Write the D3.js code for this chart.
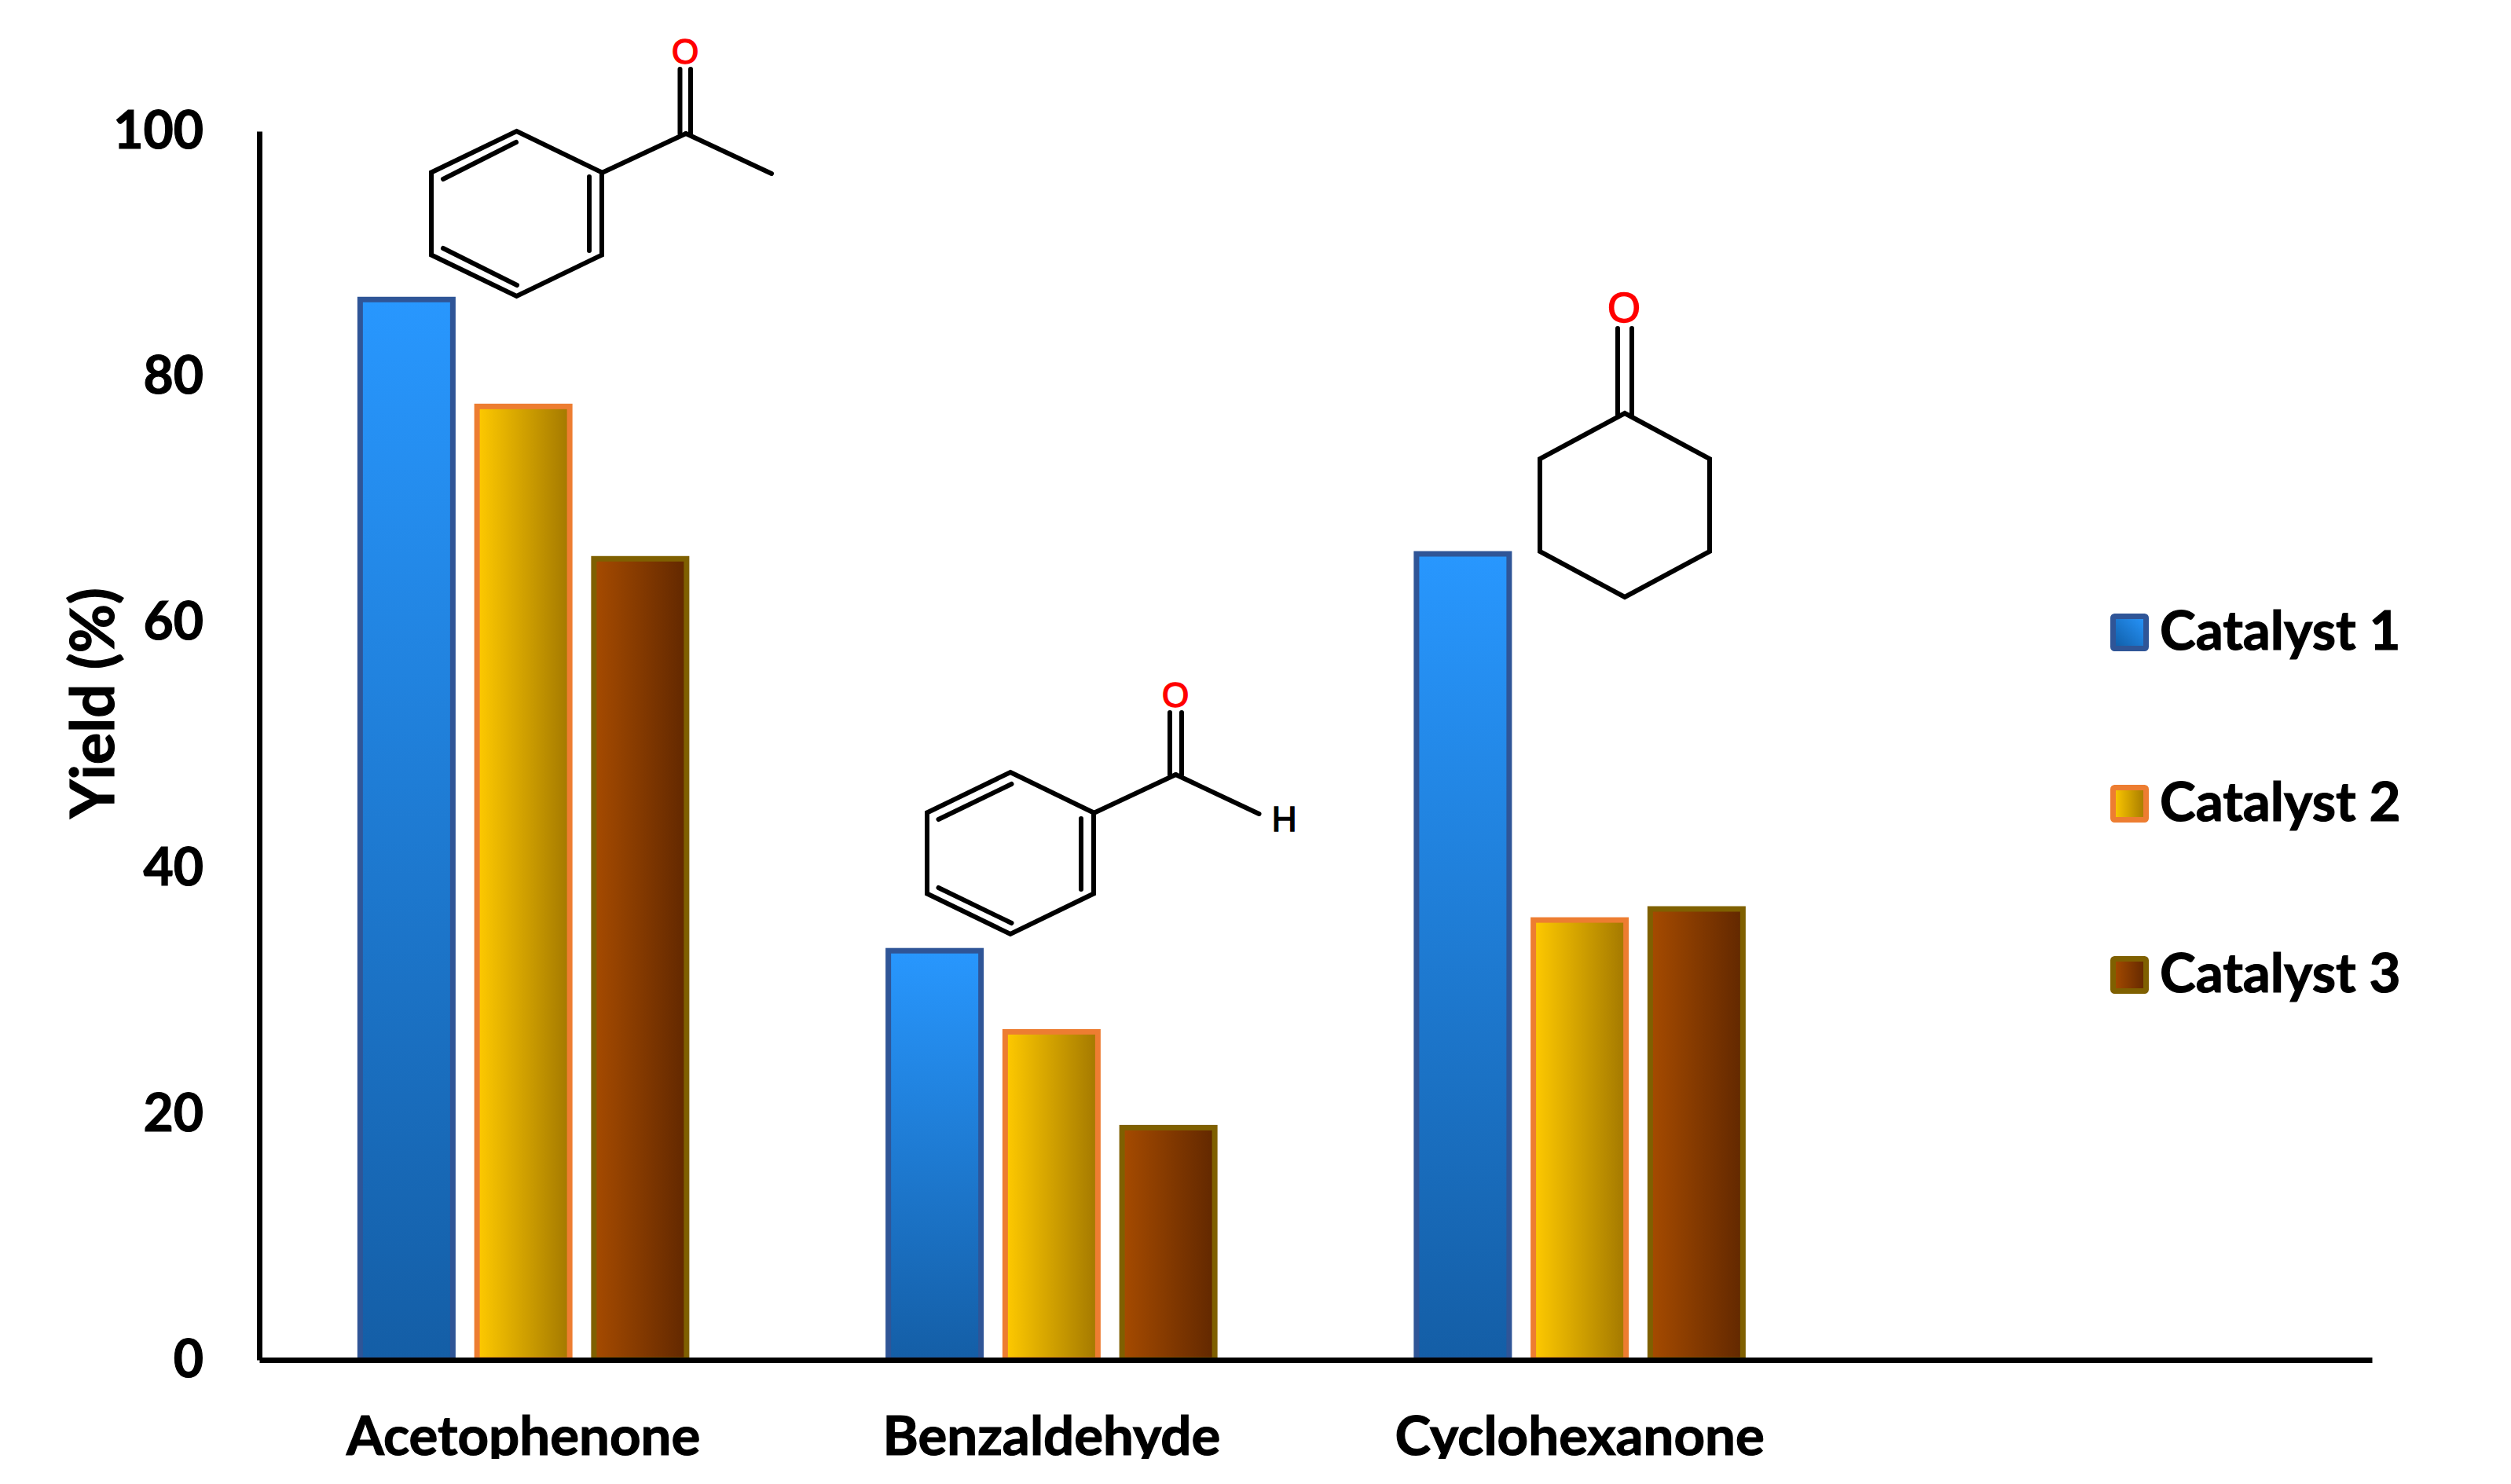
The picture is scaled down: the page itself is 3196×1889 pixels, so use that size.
<!DOCTYPE html>
<html>
<head>
<meta charset="utf-8">
<script src="https://cdnjs.cloudflare.com/ajax/libs/d3/7.8.5/d3.min.js"></script>
<style>
	html, body { margin: 0; padding: 0; background: #fff; }
	svg { display: block; }
	text { font-family: Lato, "Open Sans", sans-serif; font-weight: 700; fill: #000; stroke: #000; stroke-width: 1.2px; }
	.atom { font-family: "Liberation Sans", Arial, sans-serif; font-weight: 400; stroke-width: 1.5px; }
</style>
</head>
<body>
<svg id="figure_container"></svg>
<script>
// values
var categories = ["Acetophenone", "Benzaldehyde", "Cyclohexanone", ""],
	seriesNames = ["Catalyst 1", "Catalyst 2", "Catalyst 3"],
	catalyst1 = [86.3, 33.3, 65.6],
	catalyst2 = [77.6, 26.7, 35.8],
	catalyst3 = [65.2, 18.9, 36.7],
	yTicks = [0, 20, 40, 60, 80, 100];

var allSeries = [catalyst1, catalyst2, catalyst3],
	strokes = ["#2f5597", "#ed7d31", "#7f6000"];

var vis = d3.select("#figure_container").attr("width", 3196).attr("height", 1889),
	defs = vis.append("defs");

function addGradient(id, x2, y2, x1, y1, c0, c1) {
	var g = defs.append("linearGradient").attr("id", id)
		.attr("x1", x1).attr("y1", y1).attr("x2", x2).attr("y2", y2);
	g.append("stop").attr("offset", "0%").attr("stop-color", c0);
	g.append("stop").attr("offset", "100%").attr("stop-color", c1);
}
// bars and legend swatches use slightly different directions for the blue
addGradient("fill0", 0, 0, 0, 1, "#145ea6", "#2897fe");
addGradient("fill1", 1, 0, 0, 0, "#ffca00", "#a37800");
addGradient("fill2", 1, 0, 0, 0, "#a64b00", "#622800");
addGradient("swatch0", 1, 0, 0, 1, "#0f5ba3", "#2897fe");

defs.append("clipPath").attr("id", "labelClip").append("rect")
	.attr("x", 0).attr("y", 0).attr("width", 3196).attr("height", 1857);

var x0 = d3.scaleBand().domain(categories).range([330, 3019]),
	x1 = d3.scaleBand().domain(seriesNames).range([-207.75, 207.75]).paddingInner(0.2067),
	y = d3.scaleLinear().domain([0, 100]).range([1731, 167]);

// bars
allSeries.forEach(function (values, s) {
	vis.append("g").selectAll("rect")
		.data(values)
		.enter()
		.append("rect")
		.attr("x", function (d, i) { return x0(categories[i]) + x0.bandwidth() / 2 + x1(seriesNames[s]); })
		.attr("y", function (d) { return y(d); })
		.attr("width", x1.bandwidth())
		.attr("height", function (d) { return y(0) - y(d); })
		.attr("fill", "url(#fill" + s + ")")
		.attr("stroke", strokes[s])
		.attr("stroke-width", 7);
});

// axes
var yAxis = d3.axisLeft(y).tickValues(yTicks).tickSize(0).tickPadding(71);
var yG = vis.append("g").attr("transform", "translate(330,0)").call(yAxis);
yG.select(".domain").attr("stroke", "#000").attr("stroke-width", 7);
yG.selectAll("text").attr("font-size", 66).attr("font-family", null);

// the bottom of the category labels is cut off in the figure
var xAxis = d3.axisBottom(x0).tickSize(0).tickPadding(0);
var xG = vis.append("g").attr("clip-path", "url(#labelClip)")
	.append("g").attr("transform", "translate(0,1731)").call(xAxis);
xG.select(".domain").attr("stroke", "#000").attr("stroke-width", 7);
xG.selectAll("text")
	.attr("font-size", 69)
	.attr("font-family", null)
	.attr("y", 121)
	.attr("dy", 0);

vis.append("text")
	.attr("transform", "translate(145,895) rotate(-90)")
	.attr("text-anchor", "middle")
	.attr("font-size", 76)
	.text("Yield (%)");

// legend
var legend = vis.append("g").selectAll("g")
	.data(seriesNames)
	.enter()
	.append("g")
	.attr("transform", function (d, i) { return "translate(2686," + (781 + i * 218) + ")"; });
legend.append("rect")
	.attr("x", 3.5).attr("y", 3.5).attr("width", 42).attr("height", 41)
	.attr("rx", 2)
	.attr("fill", function (d, i) { return i == 0 ? "url(#swatch0)" : "url(#fill" + i + ")"; })
	.attr("stroke", function (d, i) { return strokes[i]; })
	.attr("stroke-width", 7);
legend.append("text")
	.attr("x", 63).attr("y", 46)
	.attr("font-size", 69)
	.text(function (d) { return d; });

// structures above the bars
var mol = vis.append("g").attr("fill", "none").attr("stroke", "#000")
	.attr("stroke-width", 6).attr("stroke-linecap", "round").attr("stroke-linejoin", "miter");

function bond(a, b, c, d) {
	mol.append("line").attr("x1", a).attr("y1", b).attr("x2", c).attr("y2", d);
}
function ring(cx, cy, rx, ry, sh) {
	var line = d3.line();
	mol.append("path").attr("d", line([
		[cx, cy - ry], [cx + rx, cy - sh], [cx + rx, cy + sh],
		[cx, cy + ry], [cx - rx, cy + sh], [cx - rx, cy - sh]
	]) + "Z");
}
function atom(label, ax, ay, size, color) {
	vis.append("text").attr("class", "atom")
		.attr("x", ax).attr("y", ay)
		.attr("text-anchor", "middle")
		.attr("font-size", size)
		.style("fill", color)
		.style("stroke", color)
		.text(label);
}

// acetophenone
ring(657.5, 272, 108.5, 105, 52.5);
bond(564, 228, 657, 181);
bond(750, 225, 750, 319);
bond(564, 316, 658, 363);
bond(766, 220, 873, 170);
bond(873, 170, 982, 221);
bond(865.5, 88, 865.5, 170);
bond(879, 88, 879, 170);
atom("O", 872, 81, 44, "#ff0000");

// benzaldehyde
ring(1286, 1086, 106, 103, 51.5);
bond(1194.5, 1043, 1287.5, 998);
bond(1376, 1042, 1376, 1132);
bond(1194.5, 1130, 1287.5, 1175);
bond(1392, 1035, 1496.5, 986);
bond(1496.5, 986, 1602.5, 1036);
bond(1489, 907, 1489, 986);
bond(1504, 907, 1504, 986);
atom("O", 1496, 900, 44, "#ff0000");
atom("H", 1634.6, 1058, 44, "#000000");

// cyclohexanone
ring(2068, 643, 108, 117, 59);
bond(2059, 418, 2059, 528);
bond(2077, 418, 2077, 528);
atom("O", 2067, 410, 54, "#ff0000");
</script>
</body>
</html>
